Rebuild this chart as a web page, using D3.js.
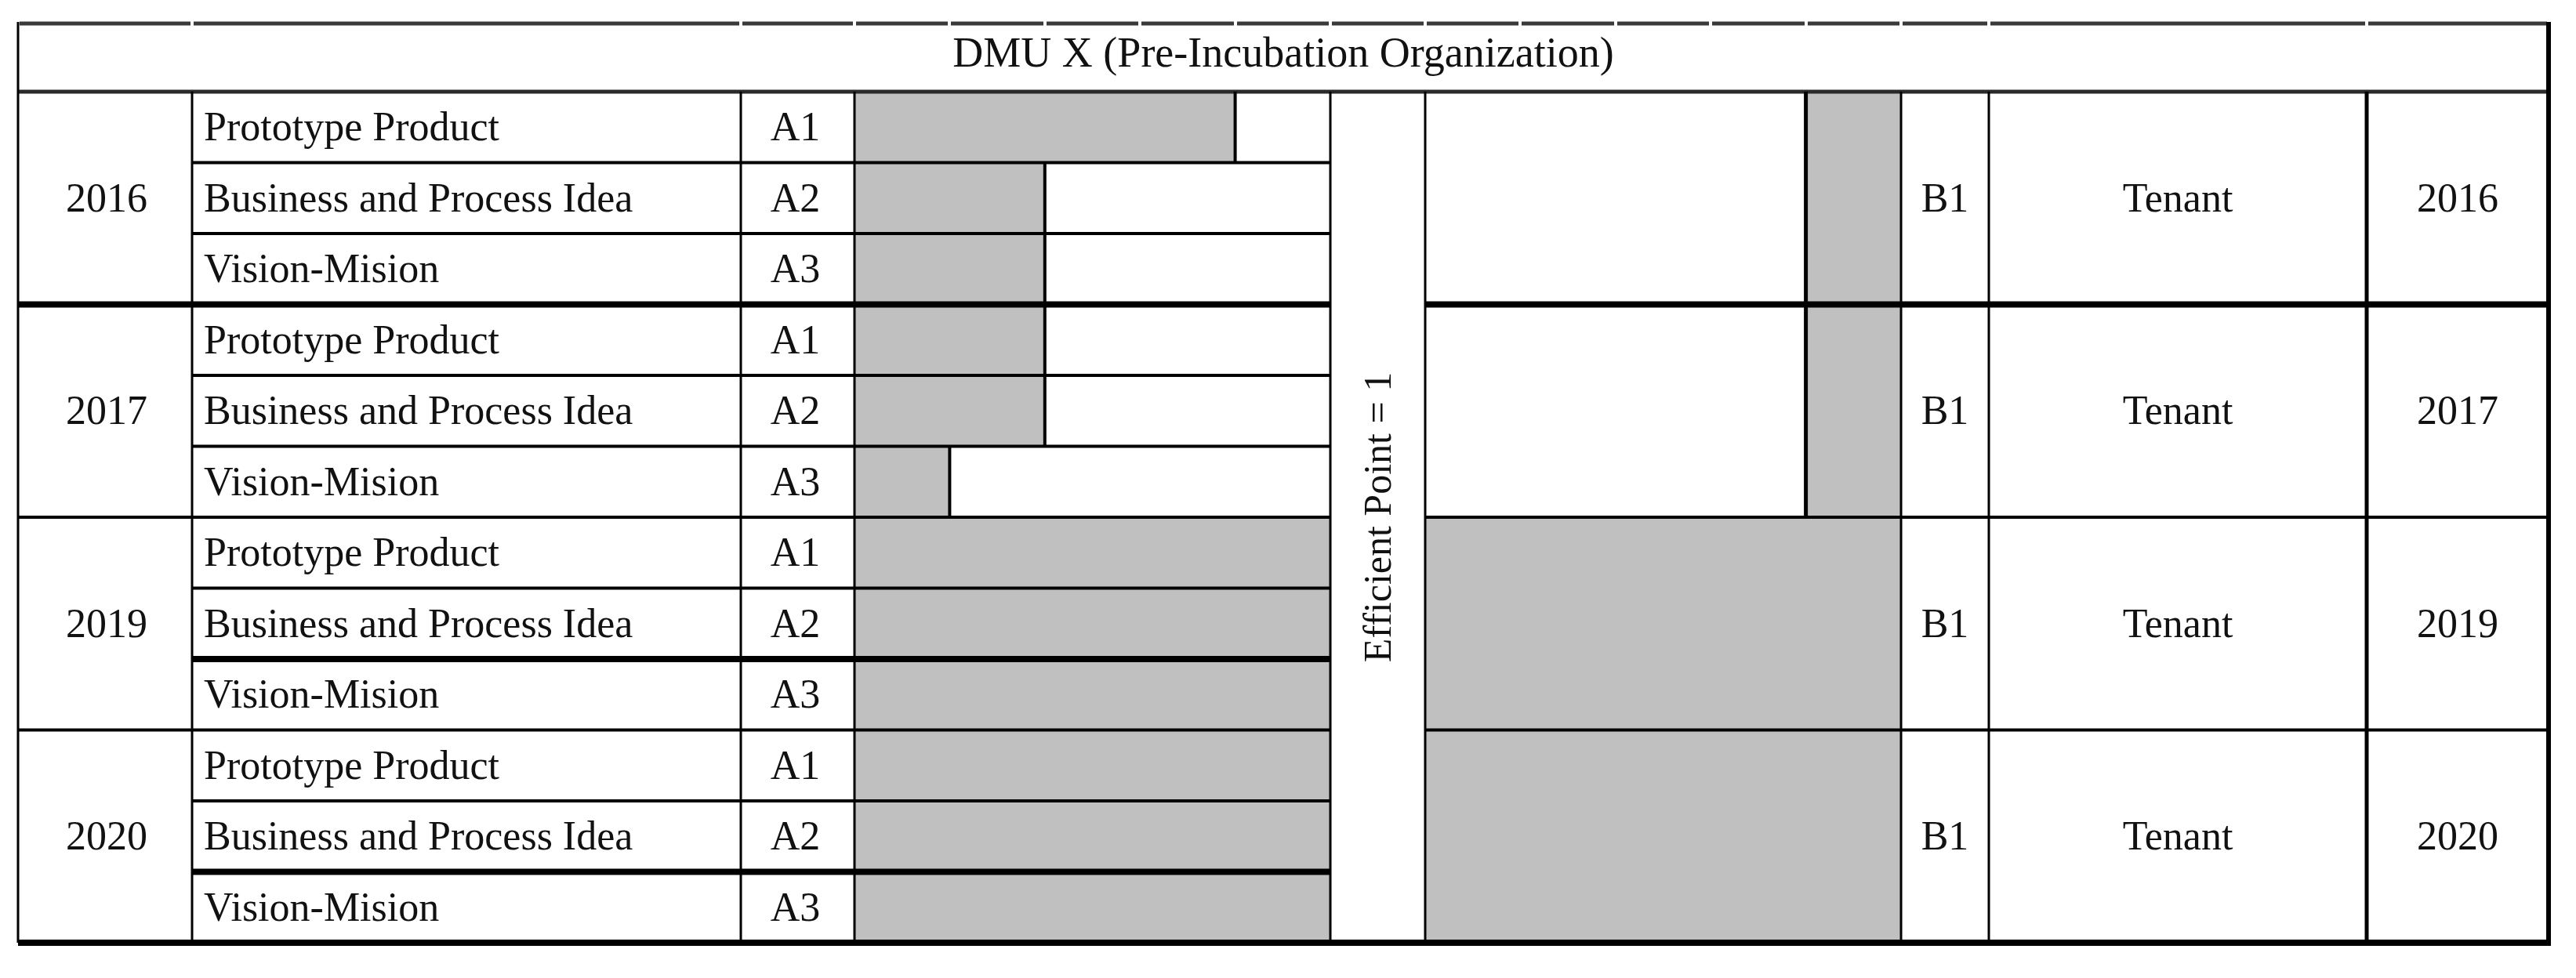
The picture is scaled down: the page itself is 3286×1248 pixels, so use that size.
<!DOCTYPE html>
<html>
<head>
<meta charset="utf-8">
<script src="https://cdn.jsdelivr.net/npm/d3@7"></script>
<style>
  body { margin:0; background:#fff; }
  svg text { font-family:"Liberation Serif","DejaVu Serif",serif; fill:#111; }
</style>
</head>
<body>
<svg id="chart" width="3286" height="1248"></svg>
<script>
//^^^^^^^^^^^^^^^^^^^^^^^^^^^^^^^^^^^^^^^^^^^^^^^^^^^^^^^^^^^^^^^^^^^^^^^^^^^^^^
// Data
//------------------------------------------------------------------------------
var title = "DMU X (Pre-Incubation Organization)"
var years = ["2016","2017","2019","2020"]
var indicators = ["Prototype Product","Business and Process Idea","Vision-Mision"]
var codes = ["A1","A2","A3"]
// input scores per year (A1, A2, A3)
var scoresA = [[0.8,0.4,0.4],[0.4,0.4,0.2],[1,1,1],[1,1,1]]
var outputCode = "B1"
var outputLabel = "Tenant"
var scoresB = [0.2,0.2,1,1]
var efficientLabel = "Efficient Point = 1"

//^^^^^^^^^^^^^^^^^^^^^^^^^^^^^^^^^^^^^^^^^^^^^^^^^^^^^^^^^^^^^^^^^^^^^^^^^^^^^^
// Layout
//------------------------------------------------------------------------------
var svg = d3.select("#chart")
var fs = 52
var topY = 30, headY = 117, bottomY = 1203
var cols = {left:23, name:245, code:945, barA:1090, eff:1697, barB:1818,
            outCode:2425, outLabel:2537, yearR:3019, right:3251}

var xA = d3.scaleLinear().domain([0,1]).range([cols.barA,cols.eff])
var xB = d3.scaleLinear().domain([0,1]).range([cols.outCode,cols.barB])
var nPer = indicators.length
var nRows = years.length*nPer
var y = d3.scaleLinear().domain([0,nRows]).range([headY,bottomY])

var rows = []
years.forEach(function(yr,g){
  indicators.forEach(function(name,j){
    rows.push({g:g, r:g*nPer+j, year:yr, name:name, code:codes[j], v:scoresA[g][j]})
  })
})
var groups = years.map(function(yr,g){
  return {g:g, year:yr, v:scoresB[g], r0:g*nPer, r1:(g+1)*nPer}
})

function line(x1,y1,x2,y2,w,c) {
  svg.append("line")
    .attr("x1",x1).attr("y1",y1).attr("x2",x2).attr("y2",y2)
    .attr("stroke",c || "#000")
    .attr("stroke-width",w)
}

//^^^^^^^^^^^^^^^^^^^^^^^^^^^^^^^^^^^^^^^^^^^^^^^^^^^^^^^^^^^^^^^^^^^^^^^^^^^^^^
// Bars
//------------------------------------------------------------------------------
svg.selectAll("rect.barA").data(rows).enter().append("rect")
  .attr("class","barA")
  .attr("x",xA(0))
  .attr("y",function(d){ return y(d.r) })
  .attr("width",function(d){ return xA(d.v)-xA(0) })
  .attr("height",function(d){ return y(d.r+1)-y(d.r) })
  .attr("fill","#c0c0c0")

svg.selectAll("rect.barB").data(groups).enter().append("rect")
  .attr("class","barB")
  .attr("x",function(d){ return xB(d.v) })
  .attr("y",function(d){ return y(d.r0) })
  .attr("width",function(d){ return xB(0)-xB(d.v) })
  .attr("height",function(d){ return y(d.r1)-y(d.r0) })
  .attr("fill","#c0c0c0")

//^^^^^^^^^^^^^^^^^^^^^^^^^^^^^^^^^^^^^^^^^^^^^^^^^^^^^^^^^^^^^^^^^^^^^^^^^^^^^^
// Grid lines
//------------------------------------------------------------------------------
// top border, broken at every column / score tick
var breaks = [cols.left,cols.name,cols.code]
  .concat(xA.ticks(5).map(xA))
  .concat(xB.ticks(5).map(xB))
  .concat([cols.outLabel,cols.yearR,cols.right])
breaks = d3.sort(Array.from(new Set(breaks.map(Math.round))))
for (var i = 0; i < breaks.length-1; i++) {
  line(breaks[i]+2,topY,breaks[i+1]-2,topY,5,"#3a3a3a")
}

line(cols.left,headY,cols.right,headY,5,"#2a2a2a")

var thick = [3,8,11]
for (var k = 1; k < nRows; k++) {
  var w = thick.indexOf(k) >= 0 ? 8 : 4
  if (k % nPer == 0) {
    line(cols.left,y(k),cols.eff,y(k),w)
    line(cols.barB,y(k),cols.right,y(k),w)
  }
  else {
    line(cols.name,y(k),cols.eff,y(k),w)
  }
}
line(cols.left,bottomY,cols.right+3,bottomY,8)

line(cols.left,topY-2,cols.left,bottomY,3)
;[cols.name,cols.code,cols.barA,cols.eff,cols.barB,cols.outCode,cols.outLabel].forEach(function(x){
  line(x,headY,x,bottomY,3)
})
line(cols.yearR,headY,cols.yearR,bottomY,5)
line(cols.right,topY-2,cols.right,bottomY+3,6)

// bar ends
rows.filter(function(d){ return d.v < 1 }).forEach(function(d){
  line(xA(d.v),y(d.r),xA(d.v),y(d.r+1),4)
})
groups.filter(function(d){ return d.v < 1 }).forEach(function(d){
  line(xB(d.v),y(d.r0),xB(d.v),y(d.r1),5)
})

//^^^^^^^^^^^^^^^^^^^^^^^^^^^^^^^^^^^^^^^^^^^^^^^^^^^^^^^^^^^^^^^^^^^^^^^^^^^^^^
// Labels
//------------------------------------------------------------------------------
var cap = fs*0.33

svg.append("text")
  .attr("x",(cols.left+cols.right)/2)
  .attr("y",(topY+headY)/2+cap-6)
  .attr("text-anchor","middle")
  .attr("font-size",54)
  .text(title)

svg.selectAll("text.name").data(rows).enter().append("text")
  .attr("class","name")
  .attr("x",cols.name+15)
  .attr("y",function(d){ return (y(d.r)+y(d.r+1))/2+cap })
  .attr("font-size",fs)
  .text(function(d){ return d.name })

svg.selectAll("text.code").data(rows).enter().append("text")
  .attr("class","code")
  .attr("x",(cols.code+cols.barA)/2-3)
  .attr("y",function(d){ return (y(d.r)+y(d.r+1))/2+cap })
  .attr("text-anchor","middle")
  .attr("font-size",fs)
  .text(function(d){ return d.code })

var mid = function(d){ return (y(d.r0)+y(d.r1))/2+cap }

svg.selectAll("text.yearL").data(groups).enter().append("text")
  .attr("x",(cols.left+cols.name)/2+2)
  .attr("y",mid)
  .attr("text-anchor","middle")
  .attr("font-size",fs)
  .text(function(d){ return d.year })

svg.selectAll("text.bcode").data(groups).enter().append("text")
  .attr("x",(cols.outCode+cols.outLabel)/2)
  .attr("y",mid)
  .attr("text-anchor","middle")
  .attr("font-size",fs)
  .text(outputCode)

svg.selectAll("text.blabel").data(groups).enter().append("text")
  .attr("x",(cols.outLabel+cols.yearR)/2)
  .attr("y",mid)
  .attr("text-anchor","middle")
  .attr("font-size",fs)
  .text(outputLabel)

svg.selectAll("text.yearR").data(groups).enter().append("text")
  .attr("x",(cols.yearR+cols.right)/2)
  .attr("y",mid)
  .attr("text-anchor","middle")
  .attr("font-size",fs)
  .text(function(d){ return d.year })

var ex = (cols.eff+cols.barB)/2 + 16,
    ey = (headY+bottomY)/2
svg.append("text")
  .attr("transform","translate("+ex+","+ey+") rotate(-90)")
  .attr("text-anchor","middle")
  .attr("font-size",50)
  .text(efficientLabel)
</script>
</body>
</html>
